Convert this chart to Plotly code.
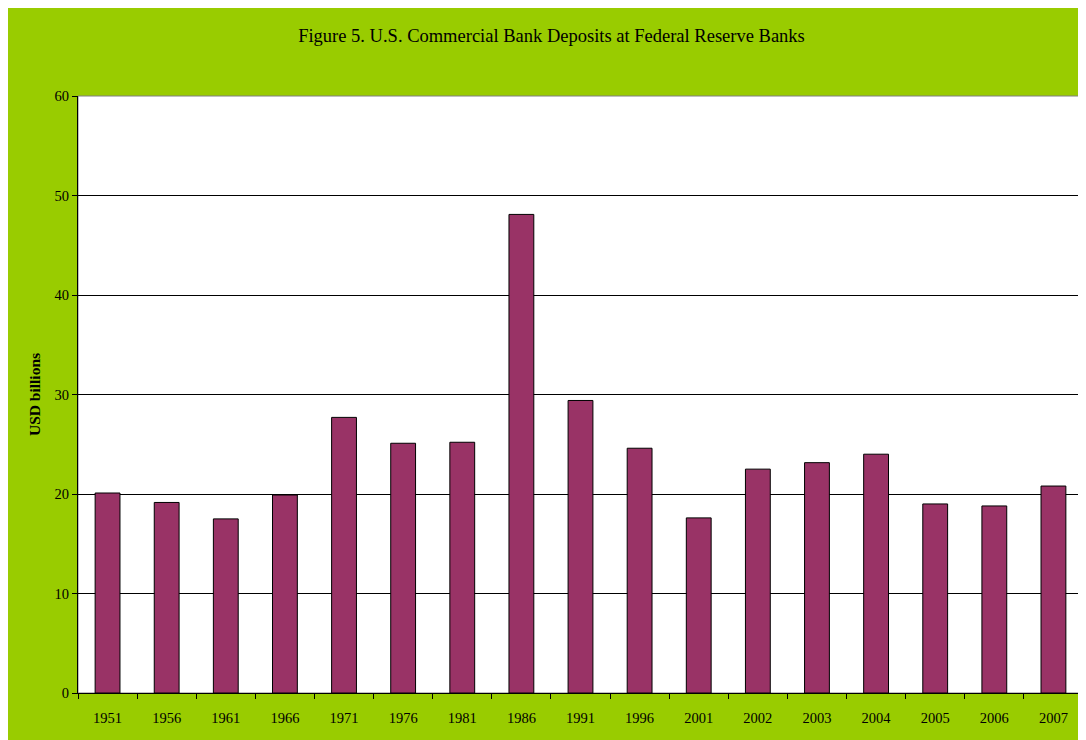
import plotly.graph_objects as go

years = ["1951", "1956", "1961", "1966", "1971", "1976", "1981", "1986", "1991",
         "1996", "2001", "2002", "2003", "2004", "2005", "2006", "2007"]
deposits = [20.1, 19.15, 17.5, 19.9, 27.7, 25.1, 25.2, 48.1, 29.4,
            24.6, 17.6, 22.5, 23.15, 24.0, 19.0, 18.8, 20.8]
y_ticks = [0, 10, 20, 30, 40, 50, 60]

title_text = "Figure 5. U.S. Commercial Bank Deposits at Federal Reserve Banks"
y_title = "USD billions"

GREEN = "#99CC00"
BAR = "#993366"
FONT = "Liberation Serif, Times New Roman, serif"

# page body adds an 8px offset; size figure so it reaches the window edges
W, H = 1078, 732
L, R, T, B = 70, 3, 88, 47

fig = go.Figure()
fig.add_trace(go.Bar(
    x=years, y=deposits,
    marker=dict(color=BAR, line=dict(color="black", width=1)),
    width=0.42,
))

fig.update_layout(
    width=W, height=H,
    margin=dict(l=L, r=R, t=T, b=B, pad=0),
    paper_bgcolor=GREEN,
    plot_bgcolor="white",
    showlegend=False,
    font=dict(family=FONT, size=14, color="black"),
    title=dict(text=title_text, x=543.5 / W, xanchor="center", xref="container",
               y=1 - 28 / H, yanchor="middle", yref="container",
               font=dict(family=FONT, size=18.5, color="black")),
    xaxis=dict(
        type="category",
        showline=True, linecolor="black", linewidth=1,
        ticks="outside", ticklen=5, tickcolor="black", tickwidth=1,
        tickson="boundaries",
        showgrid=False,
        tickfont=dict(family=FONT, size=14.5),
        ticklabelstandoff=12,
    ),
    yaxis=dict(
        range=[0, 60],
        tickvals=y_ticks,
        showline=True, linecolor="black", linewidth=1,
        ticks="outside", ticklen=5, tickcolor="black", tickwidth=1,
        showgrid=True, gridcolor="black", gridwidth=1,
        zeroline=False,
        tickfont=dict(family=FONT, size=14.5),
        title=dict(text="<b>" + y_title + "</b>", standoff=10,
                   font=dict(family=FONT, size=15.5)),
    ),
    shapes=[
        dict(type="rect", xref="paper", yref="paper", x0=0, x1=1, y0=0, y1=1,
             line=dict(color="#808080", width=1), fillcolor="rgba(0,0,0,0)",
             layer="below"),
    ],
)

fig.write_html("out.html")
